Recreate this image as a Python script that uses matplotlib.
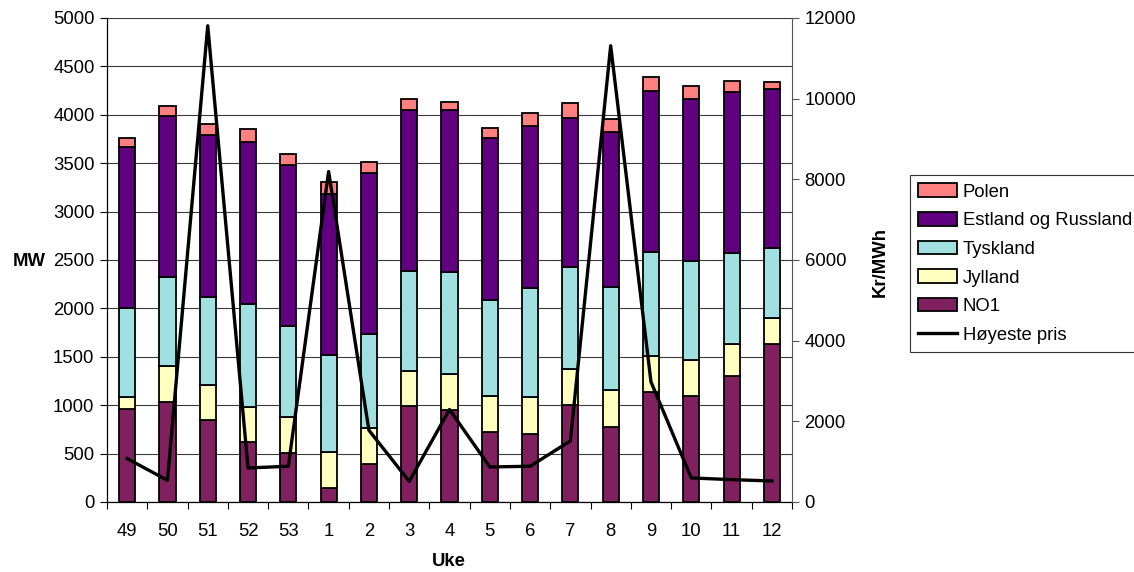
import matplotlib
matplotlib.use("Agg")
import matplotlib.pyplot as plt
import numpy as np

plt.rcParams['font.family'] = ['Liberation Sans', 'DejaVu Sans']

weeks = ["49", "50", "51", "52", "53", "1", "2", "3", "4", "5", "6", "7", "8", "9", "10", "11", "12"]

# Cumulative tops of each stacked layer (MW)
no1_top = [960, 1035, 845, 615, 510, 145, 397, 990, 948, 725, 707, 1000, 776, 1138, 1093, 1303, 1631]
jylland_top = [1080, 1403, 1210, 983, 879, 514, 765, 1355, 1321, 1096, 1083, 1369, 1155, 1507, 1465, 1634, 1896]
tyskland_top = [2007, 2327, 2121, 2041, 1817, 1514, 1734, 2386, 2379, 2086, 2214, 2424, 2217, 2586, 2493, 2569, 2620]
estland_top = [3665, 3983, 3793, 3714, 3483, 3183, 3403, 4052, 4052, 3758, 3886, 3972, 3827, 4248, 4165, 4238, 4262]
polen_top = [3762, 4093, 3907, 3858, 3596, 3307, 3517, 4165, 4134, 3862, 4017, 4117, 3955, 4393, 4293, 4345, 4338]

# Highest price per week (Kr/MWh)
hoyeste_pris = [1076, 538, 11808, 844, 886, 8193, 1779, 513, 2293, 869, 886, 1514, 11312, 2979, 596, 555, 521]

no1 = np.array(no1_top)
jylland = np.array(jylland_top) - no1
tyskland = np.array(tyskland_top) - np.array(jylland_top)
estland = np.array(estland_top) - np.array(tyskland_top)
polen = np.array(polen_top) - np.array(estland_top)

FS = 13.3

fig = plt.figure(figsize=(11.34, 5.72), dpi=100)
ax = fig.add_axes([107/1134, 1 - 502/572, (792 - 107)/1134, (502 - 18)/572])
ax2 = ax.twinx()

x = np.arange(len(weeks))
w = 0.4
kw = dict(width=w, edgecolor='black', linewidth=1.3, zorder=3)
b1 = ax.bar(x, no1, color='#80205F', label='NO1', **kw)
b2 = ax.bar(x, jylland, bottom=no1, color='#FFFFC0', label='Jylland', **kw)
b3 = ax.bar(x, tyskland, bottom=np.array(jylland_top), color='#A0E0E0', label='Tyskland', **kw)
b4 = ax.bar(x, estland, bottom=np.array(tyskland_top), color='#600080', label='Estland og Russland', **kw)
b5 = ax.bar(x, polen, bottom=np.array(estland_top), color='#FF8080', label='Polen', **kw)

ln, = ax2.plot(x, hoyeste_pris, color='black', linewidth=2.4, label='Høyeste pris', zorder=5)

ax.set_xlim(-0.5, len(weeks) - 0.5)
ax.set_ylim(0, 5000)
ax2.set_ylim(0, 12000)
ax.set_yticks(np.arange(0, 5001, 500))
ax2.set_yticks(np.arange(0, 12001, 2000))

ax.set_xticks(x)
ax.set_xticklabels(weeks)
ax.set_xticks(np.arange(-0.5, len(weeks), 1), minor=True)
ax.tick_params(axis='x', which='major', length=0, labelsize=FS, pad=15)
ax.tick_params(axis='x', which='minor', length=5, direction='out', width=0.8)
ax.tick_params(axis='y', length=5, direction='out', labelsize=FS, width=0.8, pad=4)
ax2.tick_params(axis='y', length=5, direction='out', labelsize=FS, width=0.8, pad=4,
                color='#555555')

ax.grid(axis='y', color='#3a3a3a', linewidth=0.8, zorder=0)
ax.set_axisbelow(True)

for a in (ax, ax2):
    a.spines['top'].set_visible(False)
    a.set_facecolor('none')
ax.spines['right'].set_visible(False)
ax2.spines['left'].set_visible(False)
ax2.spines['bottom'].set_visible(False)
ax2.spines['right'].set_color('#555555')
for s in ('left', 'bottom'):
    ax.spines[s].set_linewidth(0.9)

ax.set_zorder(ax2.get_zorder() - 1)
ax2.patch.set_visible(False)

fig.text(29/1134, 1 - 262/572, 'MW', fontsize=FS, fontweight='bold', ha='center', va='center')
fig.text(880/1134, 1 - 262/572, 'Kr/MWh', fontsize=FS, fontweight='bold', ha='center', va='center', rotation=90)
fig.text(449/1134, 1 - 562/572, 'Uke', fontsize=FS, fontweight='bold', ha='center', va='center')

handles = [b5, b4, b3, b2, b1, ln]
labels = ['Polen', 'Estland og Russland', 'Tyskland', 'Jylland', 'NO1', 'Høyeste pris']
leg = fig.legend(handles, labels, loc='upper left', bbox_to_anchor=(910/1134, 1 - 175/572),
                 fontsize=FS, frameon=True, fancybox=False, edgecolor='black',
                 handlelength=2.1, handleheight=0.75, labelspacing=0.62, borderpad=0.45,
                 handletextpad=0.3, borderaxespad=0)
leg.get_frame().set_linewidth(0.8)

fig.savefig('out.png', dpi=100)
